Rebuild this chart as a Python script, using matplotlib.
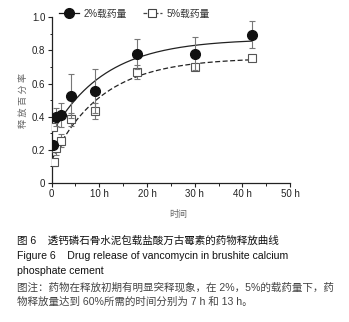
import numpy as np
import matplotlib
matplotlib.use("Agg")
import matplotlib.pyplot as plt
from matplotlib.lines import Line2D
from matplotlib.ticker import MultipleLocator

plt.rcParams['font.family'] = ['Liberation Sans', 'Noto Sans CJK SC']

# ---- data ----
t_2 = [0.25, 1, 2, 4, 9, 18, 30, 42]
y_2 = [0.23, 0.40, 0.41, 0.525, 0.555, 0.78, 0.78, 0.895]
e_2 = [0.02, 0.055, 0.07, 0.13, 0.13, 0.09, 0.10, 0.08]

t_5 = [0.3, 0.5, 1, 2, 4, 9, 18, 30, 42]
y_5 = [0.34, 0.125, 0.21, 0.255, 0.385, 0.435, 0.67, 0.70, 0.755]
e_5 = [0.0, 0.02, 0.04, 0.04, 0.04, 0.05, 0.045, 0.02, 0.02]

labels = ['2%载药量', '5%载药量']
xtick_vals = [0, 10, 20, 30, 40, 50]
xtick_labels = ['0', '10 h', '20 h', '30 h', '40 h', '50 h']
ytick_vals = [0, 0.2, 0.4, 0.6, 0.8, 1.0]
ytick_labels = ['0', '0.2', '0.4', '0.6', '0.8', '1.0']


def fit_assoc(t, y):
    t = np.asarray(t, float); y = np.asarray(y, float)
    best = None
    for k in np.linspace(0.01, 1.5, 3000):
        A = np.column_stack([np.ones_like(t), 1 - np.exp(-k * t)])
        coef, *_ = np.linalg.lstsq(A, y, rcond=None)
        sse = np.sum((A @ coef - y) ** 2)
        if best is None or sse < best[0]:
            best = (sse, k, coef)
    _, k, (y0, span) = best
    return lambda x: y0 + span * (1 - np.exp(-k * x))


fig = plt.figure(figsize=(3.49, 3.22), dpi=100)
ax = fig.add_axes([0.148, 0.4317, 0.683, 0.5146])

tt = np.linspace(0, 42, 300)
f2 = fit_assoc(t_2, y_2)
f5 = fit_assoc(t_5[1:], y_5[1:])
ax.plot(tt, f2(tt), color='#222222', lw=0.9, zorder=2)
ax.plot(tt, f5(tt), color='#222222', lw=0.9, ls=(0, (4, 2)), zorder=2)

ax.errorbar(t_2, y_2, yerr=e_2, fmt='o', color='#111111', ms=7,
            ecolor='#777777', elinewidth=0.8, capsize=2, capthick=0.8, zorder=4)
ax.errorbar(t_5, y_5, yerr=e_5, fmt='s', mfc='white', mec='#555555', ms=5.5,
            mew=0.8, ecolor='#777777', elinewidth=0.8, capsize=2, capthick=0.8, zorder=3)

ax.set_xlim(0, 50)
ax.set_ylim(0, 1.0)
ax.set_xticks(xtick_vals)
ax.set_xticklabels(xtick_labels)
ax.set_yticks(ytick_vals)
ax.set_yticklabels(ytick_labels)
ax.xaxis.set_minor_locator(MultipleLocator(5))
ax.yaxis.set_minor_locator(MultipleLocator(0.1))
for s in ['top', 'right']:
    ax.spines[s].set_visible(False)
for s in ['left', 'bottom']:
    ax.spines[s].set_color('#222222')
    ax.spines[s].set_linewidth(0.9)
ax.tick_params(which='major', direction='out', length=3, width=0.8,
               labelsize=7, colors='#222222', pad=1.5)
ax.tick_params(which='minor', direction='out', length=1.8, width=0.7, colors='#222222')

ax.set_ylabel('释 放 百 分 率', fontsize=6.5, color='#666666', labelpad=3)

handles = [
    Line2D([], [], color='#111111', marker='o', ms=7, lw=0.9),
    Line2D([], [], color='#444444', marker='s', ms=5.5, mfc='white', mew=0.8,
           lw=0.9, ls=(0, (3, 1.5))),
]
fig.legend(handles, labels, loc='center left', bbox_to_anchor=(0.145, 0.958),
           ncol=2, frameon=False, fontsize=7, handlelength=2.0,
           handletextpad=0.5, columnspacing=1.6, labelcolor='#333333')

fig.text(0.51, 1 - 215 / 322, '时间', fontsize=6.5, color='#666666',
         ha='center', va='center')

cap_kw = dict(fontsize=7.6, ha='left', va='center')
fig.text(17 / 349, 1 - 241 / 322, '图 6    透钙磷石骨水泥包载盐酸万古霉素的药物释放曲线', color='#111111', **cap_kw)
fig.text(17 / 349, 1 - 256 / 322, 'Figure 6    Drug release of vancomycin in brushite calcium', color='#111111', **cap_kw)
fig.text(17 / 349, 1 - 271 / 322, 'phosphate cement', color='#111111', **cap_kw)
fig.text(17 / 349, 1 - 287 / 322, '图注：药物在释放初期有明显突释现象，在 2%，5%的载药量下，药', color='#444444', **cap_kw)
fig.text(17 / 349, 1 - 302 / 322, '物释放量达到 60%所需的时间分别为 7 h 和 13 h。', color='#444444', **cap_kw)

fig.savefig('out.png', dpi=100)
